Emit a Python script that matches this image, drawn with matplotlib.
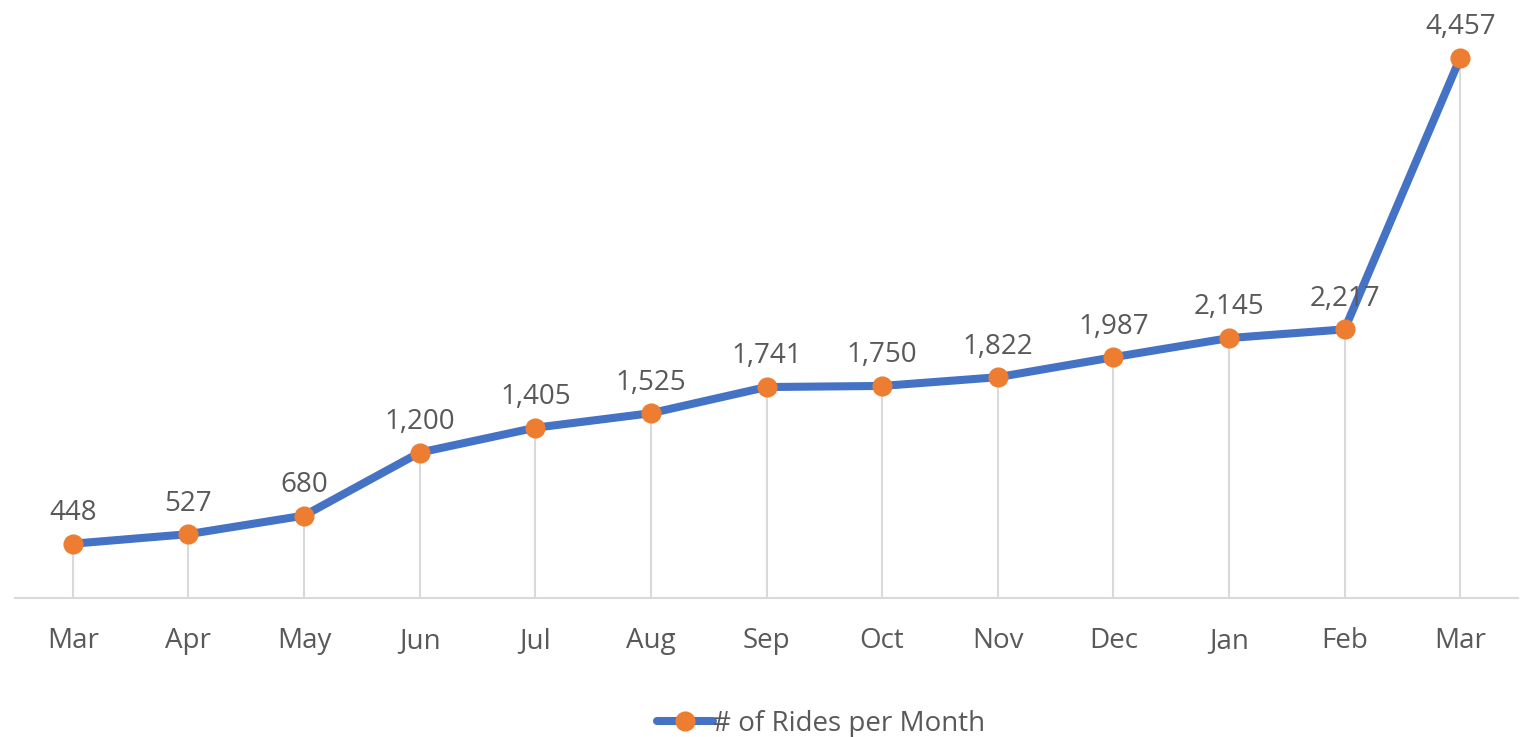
import numpy as np
import matplotlib
matplotlib.use("Agg")
from matplotlib import pyplot as plt

# chart data
months = ["Mar", "Apr", "May", "Jun", "Jul", "Aug", "Sep",
          "Oct", "Nov", "Dec", "Jan", "Feb", "Mar"]
rides = [448, 527, 680, 1200, 1405, 1525, 1741, 1750, 1822, 1987, 2145, 2217, 4457]
series_name = "# of Rides per Month"

BLUE = "#4472C4"
ORANGE = "#ED7D31"
TEXT = "#595959"
GRID = "#D9D9D9"

plt.rcParams["font.family"] = ["Open Sans", "DejaVu Sans"]

fig = plt.figure(figsize=(15.24, 7.37), dpi=100)
W, H = 1524, 737
# plot area in pixels: left 15, right 1518, x-axis at y=598
ax = fig.add_axes([15 / W, (H - 598) / H, 1503 / W, 598 / H])

x = np.arange(len(months))

# drop lines from each point to the axis
ax.vlines(x, 0, rides, color=GRID, linewidth=1.5, zorder=1)

ax.plot(x, rides, color=BLUE, linewidth=5.8, marker="o",
        markersize=13.5, markerfacecolor=ORANGE, markeredgecolor=ORANGE,
        solid_capstyle="round", label=series_name, zorder=3)

for xi, v in zip(x, rides):
    ax.annotate(f"{v:,}", (xi, v), xytext=(0, 17), textcoords="offset points",
                ha="center", va="baseline", fontsize=20, color=TEXT)

ax.set_xlim(-0.5, len(months) - 0.5)
ax.set_ylim(0, 4935)
ax.set_xticks(x)
ax.set_xticklabels(months)
ax.tick_params(axis="x", length=0, pad=21, labelsize=20, labelcolor=TEXT)
ax.set_yticks([])

for side in ("top", "right", "left"):
    ax.spines[side].set_visible(False)
ax.spines["bottom"].set_color(GRID)
ax.spines["bottom"].set_linewidth(1.5)
ax.patch.set_alpha(0)

leg = fig.legend(loc="center", bbox_to_anchor=(821 / W, (H - 724) / H),
                 frameon=False, fontsize=20, handlelength=2.0,
                 handletextpad=0.0, borderpad=0)
for t in leg.get_texts():
    t.set_color(TEXT)

fig.savefig("out.png", dpi=100)
